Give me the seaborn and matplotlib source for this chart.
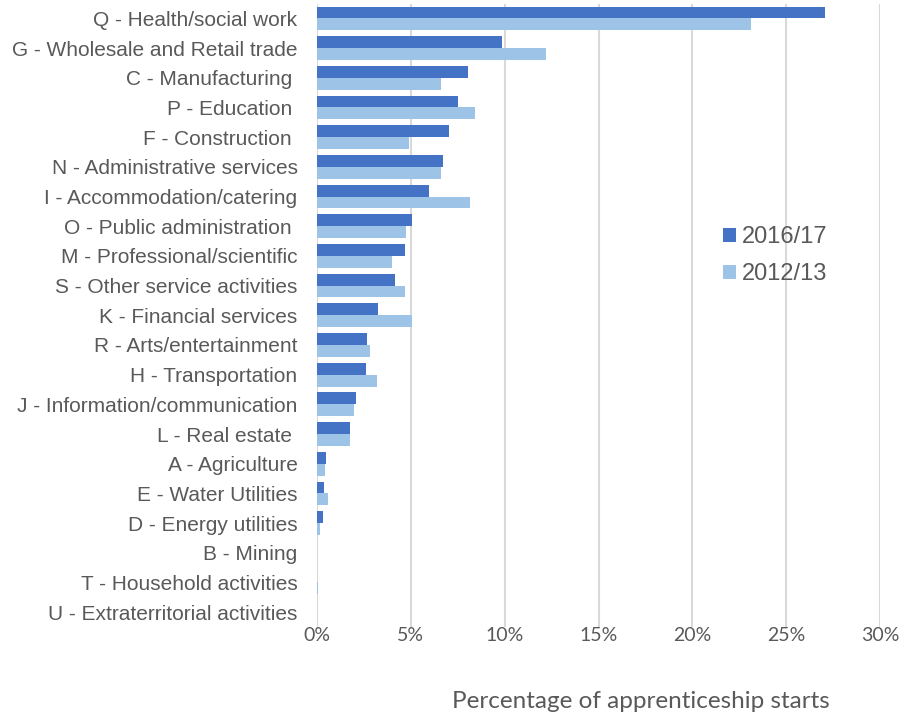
import matplotlib
matplotlib.use("Agg")
import matplotlib.pyplot as plt
import pandas as pd
import seaborn as sns
from matplotlib.ticker import PercentFormatter

# sector labels, top to bottom
sectors = [
    "Q - Health/social work", "G - Wholesale and Retail trade", "C - Manufacturing ",
    "P - Education ", "F - Construction ", "N - Administrative services",
    "I - Accommodation/catering", "O - Public administration ", "M - Professional/scientific",
    "S - Other service activities", "K - Financial services", "R - Arts/entertainment",
    "H - Transportation", "J - Information/communication", "L - Real estate ",
    "A - Agriculture", "E - Water Utilities", "D - Energy utilities",
    "B - Mining", "T - Household activities", "U - Extraterritorial activities",
]
# share of apprenticeship starts (%)
y2016 = [27.05, 9.87, 8.03, 7.49, 7.01, 6.70, 5.98, 5.06, 4.69, 4.14, 3.23,
         2.65, 2.63, 2.08, 1.76, 0.48, 0.37, 0.34, 0.02, 0.02, 0.0]
y2012 = [23.12, 12.22, 6.59, 8.42, 4.90, 6.61, 8.15, 4.76, 4.01, 4.71, 5.06,
         2.82, 3.18, 1.97, 1.78, 0.44, 0.59, 0.18, 0.01, 0.03, 0.0]
years = ["2016/17", "2012/13"]
colours = ["#4472C4", "#9DC3E6"]

df = pd.DataFrame({
    "sector": sectors * 2,
    "pct": y2016 + y2012,
    "year": [years[0]] * len(sectors) + [years[1]] * len(sectors),
})

sns.set_style("white")
plt.rcParams["font.family"] = ["Liberation Sans", "DejaVu Sans"]

fig = plt.figure(figsize=(8.99, 7.13), dpi=100)
ax = fig.add_axes([0.3526, 0.1206, 0.9789 - 0.3526, 0.995 - 0.1206])

sns.barplot(data=df, y="sector", x="pct", hue="year", hue_order=years,
            palette=colours, orient="h", width=0.8, ax=ax, saturation=1,
            order=sectors, linewidth=0)

ax.set_xlim(0, 30)
ax.set_xticks(range(0, 31, 5))
ax.xaxis.set_major_formatter(PercentFormatter(decimals=0))
ax.grid(axis="x", color="#D9D9D9", linewidth=1.5)
ax.set_axisbelow(True)
for s in ax.spines.values():
    s.set_visible(False)

ax.tick_params(axis="y", length=0, pad=14, labelsize=15, labelcolor="#595959")
ax.tick_params(axis="x", length=0, pad=0, labelsize=14, labelcolor="#595959")
for lab in ax.get_xticklabels():
    lab.set_family(["Lato", "DejaVu Sans"])

ax.set_ylabel("")
ax.set_xlabel("Percentage of apprenticeship starts", fontsize=17.5, color="#595959",
              family=["Lato", "DejaVu Sans"])
ax.xaxis.set_label_coords(0.576, -0.102)

leg = ax.legend(loc="upper left", bbox_to_anchor=(723 / 899, 1 - 226 / 713),
                bbox_transform=fig.transFigure, frameon=False,
                fontsize=17, handlelength=0.55, handleheight=0.55,
                handletextpad=0.25, labelspacing=0.65, borderaxespad=0, borderpad=0)
for t in leg.get_texts():
    t.set_color("#595959")

fig.savefig("out.png", dpi=100)
